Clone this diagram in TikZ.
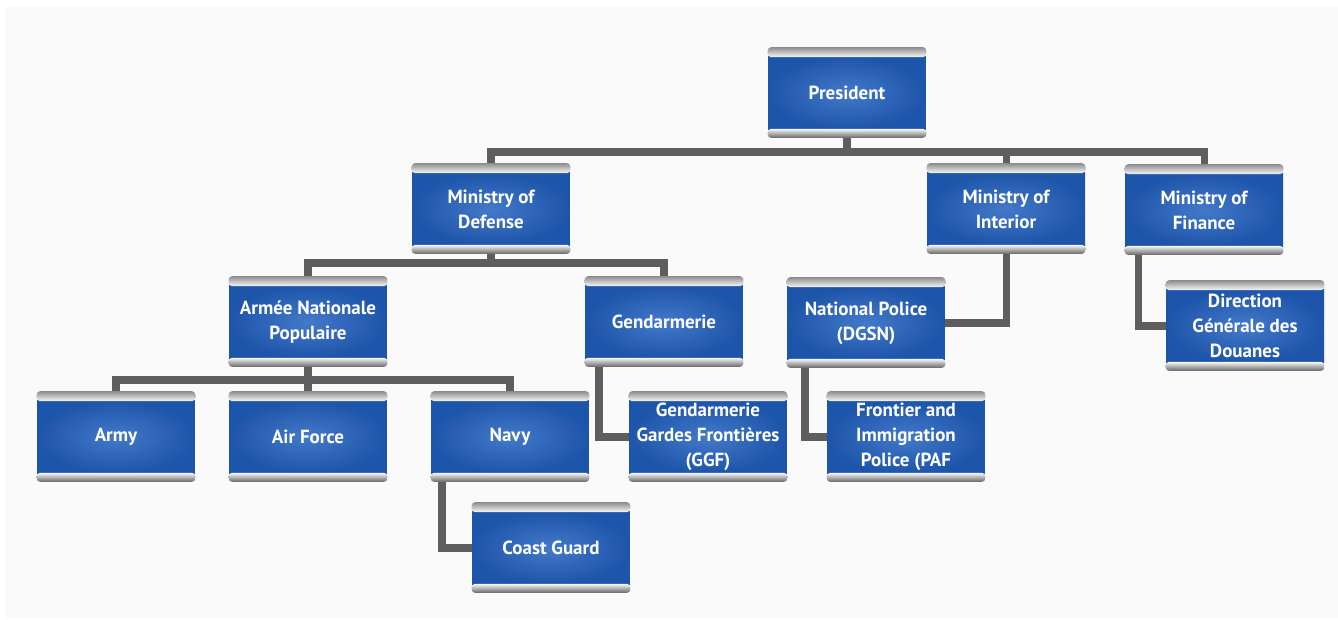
\documentclass[tikz,border=0pt]{standalone}
\usepackage{fontspec}
\setmainfont{PT Sans}
\usetikzlibrary{calc, positioning, backgrounds}

\definecolor{boxblue}{HTML}{1D55AA}
\definecolor{boxglow}{HTML}{4479C9}
\definecolor{linkgray}{HTML}{5E5E5E}

\tikzset{
	unit/.style={rectangle, minimum width=3.16cm, minimum height=1.46cm, inner sep=0pt,
		inner color=boxglow, outer color=boxblue, text=white, align=center,
		font=\fontsize{10.8}{14.2}\selectfont\bfseries},
	link/.style={draw=linkgray, line width=4pt}
}

\begin{document}
\begin{tikzpicture}[x=0.02cm, y=-0.02cm]
	\useasboundingbox (0,0) rectangle (1338,619);
	% boxes
	\node[unit] (pres) at (847,93) {President};
	\node[unit] (mod) at (491,209) {Ministry of\\Defense};
	\node[unit] (moi) at (1006,209) {Ministry of\\Interior};
	\node[unit] (mof) at (1204,210) {Ministry of\\Finance};
	\node[unit] (anp) at (308,322) {Armée Nationale\\Populaire};
	\node[unit] (gend) at (664,322) {Gendarmerie};
	\node[unit] (dgsn) at (866,323) {National Police\\(DGSN)};
	\node[unit] (dgd) at (1245,326) {Direction\\Générale des\\Douanes};
	\node[unit] (army) at (116,437) {Army};
	\node[unit] (airf) at (308,437) {Air Force};
	\node[unit] (navy) at (510,437) {Navy};
	\node[unit] (ggf) at (708,437) {Gendarmerie\\Gardes Frontières\\(GGF)};
	\node[unit] (paf) at (906,437) {Frontier and\\Immigration\\Police (PAF};
	\node[unit] (coast) at (551,548) {Coast Guard};
	\coordinate (hub1) at (847,152);
	\coordinate (hub2) at (491,263);
	\coordinate (hub3) at (308,380);
	% silver rims
	\foreach \n in {pres,mod,moi,mof,anp,gend,dgsn,dgd,army,airf,navy,ggf,paf,coast}{
		\shade[top color=black!45, bottom color=black!3, rounded corners=2pt] ($(\n.north west)+(0,-9)$) rectangle ($(\n.north east)+(0,1)$);
		\shade[top color=black!3, bottom color=black!60, rounded corners=2pt] ($(\n.south west)+(0,-1)$) rectangle ($(\n.south east)+(0,8)$);
	}
	% connectors
	\begin{scope}[on background layer]
		\fill[black!2] (6,7) rectangle (1338,619);
		\draw[link] (pres.south) -- (hub1);
		\draw[link] (mod.north) |- (hub1) -| (mof.north);
		\draw[link] (moi.north) -- (moi.north |- hub1);
		\draw[link] (mod.south) -- (hub2);
		\draw[link] (anp.north) |- (hub2) -| (gend.north);
		\draw[link] (anp.south) -- (airf.north);
		\draw[link] (army.north) |- (hub3) -| (navy.north);
		\draw[link] ($(navy.south)+(-68,0)$) |- (coast.west);
		\draw[link] ($(gend.south)+(-65,0)$) |- (ggf.west);
		\draw[link] ($(dgsn.south)+(-61,0)$) |- (paf.west);
		\draw[link] (moi.south) |- (dgsn.east);
		\draw[link] ($(mof.south)+(-66,0)$) |- (dgd.west);
	\end{scope}
\end{tikzpicture}
\end{document}
